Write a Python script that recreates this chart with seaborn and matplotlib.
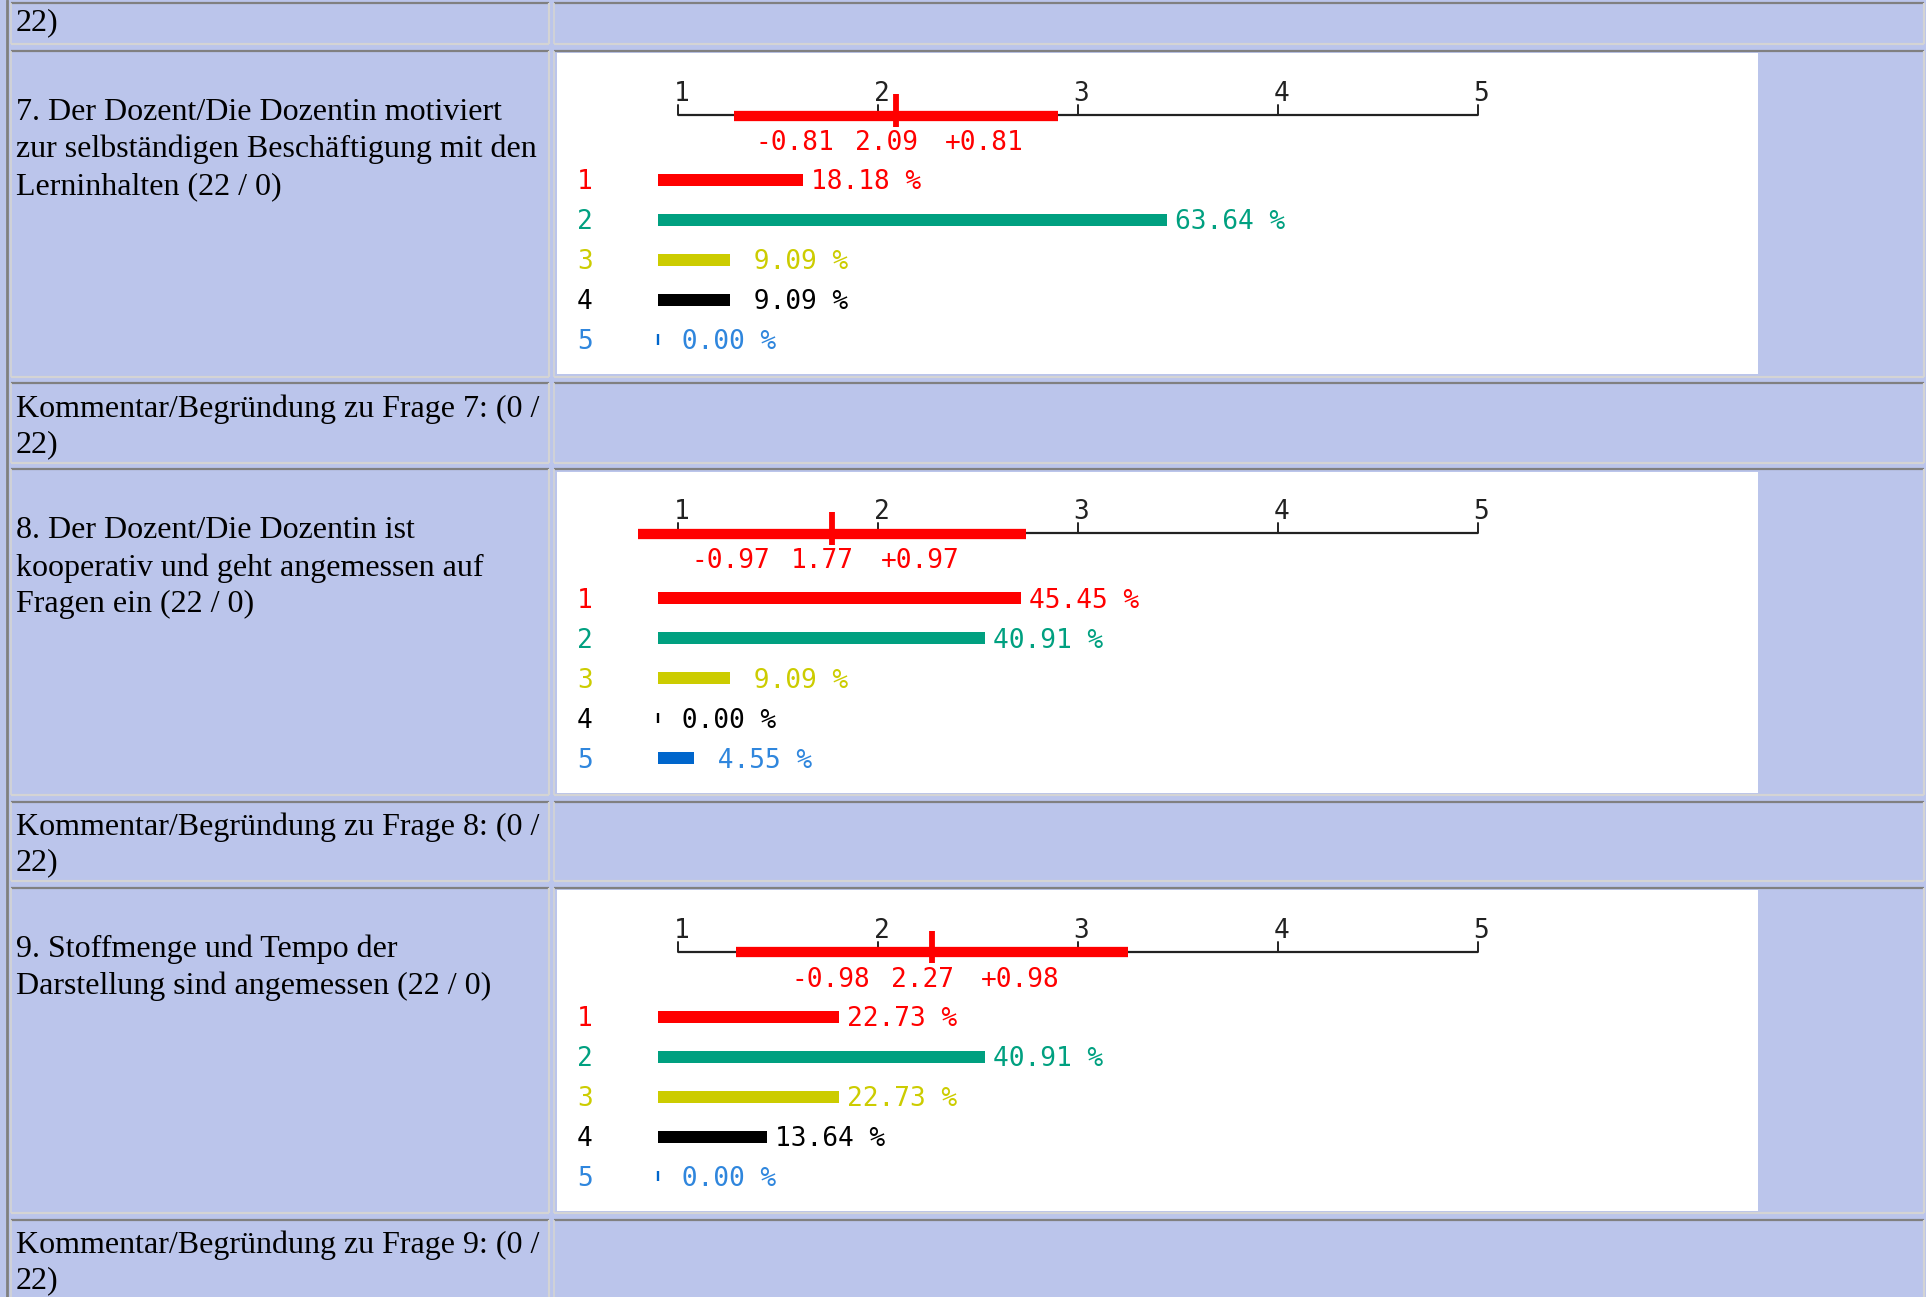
import seaborn as sns
import matplotlib.pyplot as plt
import pandas as pd
from matplotlib.patches import Rectangle

sns.set_style('white')

# Data
answers = ['1', '2', '3', '4', '5']
pct_q7 = [18.18, 63.64, 9.09, 9.09, 0.00]
pct_q8 = [45.45, 40.91, 9.09, 0.00, 4.55]
pct_q9 = [22.73, 40.91, 22.73, 13.64, 0.00]
mean_q = [2.09, 1.77, 2.27]
sd_q = [0.81, 0.97, 0.98]
scale_ticks = [1, 2, 3, 4, 5]

question_lines = [
    ['7. Der Dozent/Die Dozentin motiviert',
     'zur selbständigen Beschäftigung mit den',
     'Lerninhalten (22 / 0)'],
    ['8. Der Dozent/Die Dozentin ist',
     'kooperativ und geht angemessen auf',
     'Fragen ein (22 / 0)'],
    ['9. Stoffmenge und Tempo der',
     'Darstellung sind angemessen (22 / 0)'],
]
comment_lines = [
    ['Kommentar/Begründung zu Frage 7: (0 /', '22)'],
    ['Kommentar/Begründung zu Frage 8: (0 /', '22)'],
    ['Kommentar/Begründung zu Frage 9: (0 /', '22)'],
]
pcts = [pct_q7, pct_q8, pct_q9]

bar_colors = ['#ff0000', '#00a080', '#cccc00', '#000000', '#0066cc']
text_colors = ['#ff0000', '#00a080', '#cccc00', '#000000', '#2f86dd']

W, H = 1926, 1297
cell_bg = '#bbc5eb'
dark = '#808080'
light = '#d4d4d4'
serif = 'Liberation Serif'
mono = 'DejaVu Sans Mono'
MFS = 18.8

fig = plt.figure(figsize=(W / 100, H / 100), dpi=100)
fig.patch.set_facecolor(cell_bg)
bg = fig.add_axes([0, 0, 1, 1])
bg.set_xlim(0, W)
bg.set_ylim(H, 0)
bg.axis('off')


def cell(x0, x1, y0, y1):
    bg.add_patch(Rectangle((x0, y0), x1 - x0, y1 - y0, facecolor=cell_bg,
                           edgecolor='none'))
    bg.plot([x0, x1], [y0, y0], color=dark, lw=1.6, solid_capstyle='butt')
    bg.plot([x0, x0], [y0, y1], color=light, lw=1.2, solid_capstyle='butt')
    bg.plot([x0, x1], [y1, y1], color=light, lw=1.6, solid_capstyle='butt')
    bg.plot([x1, x1], [y0, y1], color=light, lw=1.6, solid_capstyle='butt')


def left_text(lines, y_first, step=37):
    for i, line in enumerate(lines):
        bg.text(16, y_first + i * step, line, family=serif, fontsize=23,
                va='center', ha='left', color='black')


LX0, LX1, RX0, RX1 = 10.5, 548.5, 553.5, 1923.5
PERIOD = 418.3

# outer table border
bg.plot([7, 7], [0, H], color=dark, lw=2)

# top partial row
cell(LX0, LX1, 2.7, 44.3)
cell(RX0, RX1, 2.7, 44.3)
left_text(['22)'], 23)

for q in range(3):
    top = 51 + q * PERIOD
    cell(LX0, LX1, top, top + 325.7)
    cell(RX0, RX1, top, top + 325.7)
    left_text(question_lines[q], top + 61.5)
    ctop = top + 332.3
    cell(LX0, LX1, ctop, ctop + 79.4)
    cell(RX0, RX1, ctop, ctop + 79.4)
    left_text(comment_lines[q], ctop + 25.5, step=35.8)

    # chart panel (pixel geometry)
    px0, px1 = 556.7, 1757.5
    ptop = top + 2.3
    ph = 321.0
    bg.add_patch(Rectangle((px0, ptop), px1 - px0, ph, facecolor='white',
                           edgecolor='none'))
    rect = [px0 / W, 1 - (ptop + ph) / H, (px1 - px0) / W, ph / H]
    y_top = -126.7 / 40
    y_bot = (ph - 126.7) / 40

    ax = fig.add_axes(rect)
    ax.set_facecolor('none')
    df = pd.DataFrame({'Antwort': answers, 'Prozent': pcts[q]})
    sns.barplot(data=df, x='Prozent', y='Antwort', hue='Antwort',
                palette=bar_colors, legend=False, width=0.3, orient='h',
                saturation=1, linewidth=0, edgecolor='none', ax=ax)
    for i, v in enumerate(pcts[q]):
        if v == 0:
            ax.vlines(0.1, i - 0.14, i + 0.12, color=bar_colors[i], lw=1.7)
        ax.text(v + 1.0, i + 0.06, f'{v:5.2f} %', family=mono, fontsize=MFS,
                color=text_colors[i], va='center', ha='left')
        ax.text(-10.1, i + 0.06, answers[i], family=mono, fontsize=MFS,
                color=text_colors[i], va='center', ha='left')
    ax.set_xlim((px0 - 657.6) / 8, (px1 - 657.6) / 8)
    ax.set_ylim(y_bot, y_top)
    ax.axis('off')

    sc = fig.add_axes(rect)
    sc.set_facecolor('none')
    sc.set_xlim((px0 - 677.6) / 200 + 1, (px1 - 677.6) / 200 + 1)
    sc.set_ylim(y_bot, y_top)
    sc.axis('off')
    line_y = -1.625
    sc.plot([scale_ticks[0], scale_ticks[-1]], [line_y, line_y],
            color='#222222', lw=1.6, solid_capstyle='butt')
    for t in scale_ticks:
        sc.plot([t, t], [line_y, line_y - 0.25], color='#222222', lw=1.4)
        sc.text(t - 0.02, -2.15, str(t), family=mono, fontsize=MFS,
                color='#222222', va='center', ha='left')
    m, s = mean_q[q], sd_q[q]
    sc.plot([m - s, m + s], [-1.61, -1.61], color='#ff0000', lw=7.4,
            solid_capstyle='butt')
    sc.plot([m, m], [-2.15, -1.33], color='#ff0000', lw=4.2,
            solid_capstyle='butt')
    sc.text(m - 0.305, -0.92, f'-{s:.2f}', family=mono, fontsize=MFS,
            color='#ff0000', va='center', ha='right')
    sc.text(m - 0.045, -0.92, f'{m:.2f}', family=mono, fontsize=MFS,
            color='#ff0000', va='center', ha='center')
    sc.text(m + 0.247, -0.92, f'+{s:.2f}', family=mono, fontsize=MFS,
            color='#ff0000', va='center', ha='left')

plt.savefig('out.png', dpi=100, facecolor=fig.get_facecolor())
